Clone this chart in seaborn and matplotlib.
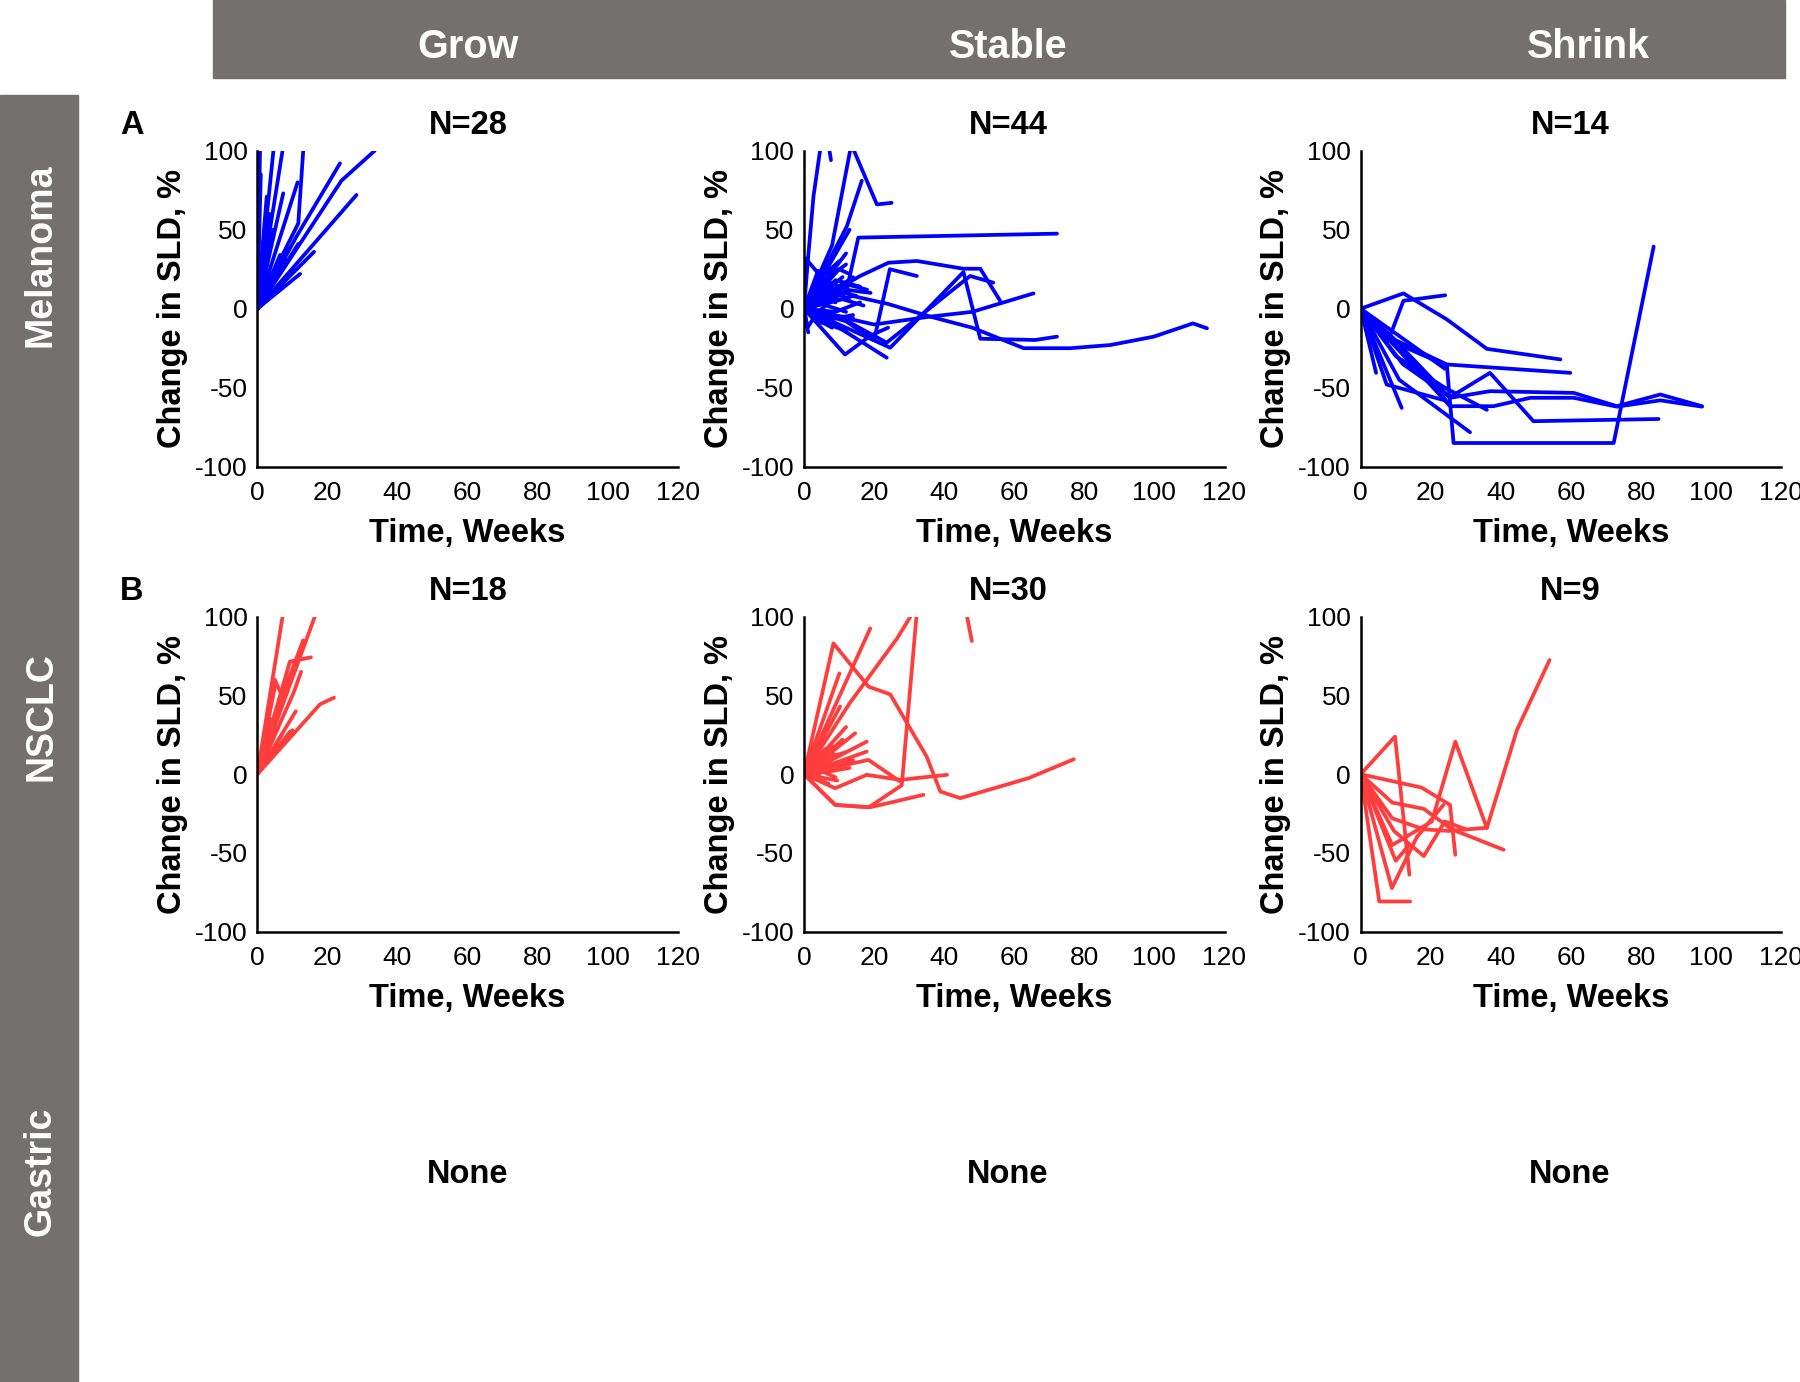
import numpy as np
import pandas as pd
import matplotlib.pyplot as plt
import seaborn as sns
from matplotlib.patches import Rectangle

# Column / row headers and panel titles
RESPONSE = ['Grow', 'Stable', 'Shrink']
TUMOUR = ['Melanoma', 'NSCLC', 'Gastric']
N_LABELS = [['N=28', 'N=44', 'N=14'], ['N=18', 'N=30', 'N=9']]
PANEL_LETTERS = ['A', 'B']
X_TICKS = [0, 20, 40, 60, 80, 100, 120]
Y_TICKS = [-100, -50, 0, 50, 100]

# Each patient trajectory: list of (time in weeks, % change in SLD)
mel_grow = [
    [(0, 0), (0.8, 104)],
    [(0, 0), (4.6, 100)],
    [(0, 0), (7.2, 100)],
    [(0, 0), (6.5, 31), (11.7, 54), (13.1, 100)],
    [(0, 0), (11.5, 80)],
    [(0, 0), (11, 45), (23.6, 92)],
    [(0, 0), (24, 81), (33.5, 100)],
    [(0, 0), (28.3, 72)],
    [(0, 0), (16.2, 36)],
    [(0, 0), (12.2, 22)],
    [(0, 0), (7.4, 73)],
    [(0, 0), (11.7, 41)],
    [(0, 0), (6.5, 34)],
    [(0, 0), (4.6, 50)],
    [(0, 0), (2.7, 71)],
    [(0, 0), (10.3, 25)],
    [(0, 0), (8.4, 31)],
    [(0, 0), (3.5, 60)],
    [(0, 0), (2, 10)],
    [(0, 0), (3, 20)],
    [(0, 0), (4, 15)],
    [(0, 0), (5, 25)],
    [(0, 0), (6, 12)],
    [(0, 0), (1.5, 30)],
    [(0, 0), (2.5, 45)],
    [(0, 0), (8, 18)],
    [(0, 0), (9, 38)],
    [(0, 0), (1, 85)],
]

mel_stable = [
    [(0, 0), (14, 8), (24, 3), (36, -5), (48, -12), (62.7, -25), (76, -25),
     (87.4, -23), (99.8, -17.7), (111, -9.3), (115, -12.4)],
    [(0, 0), (12, 10), (15.5, 45), (72.2, 47.5)],
    [(0, 0), (16, 20.7), (24.1, 29.1), (32.2, 30.2), (45.5, 25.3), (50.3, 25.3),
     (56, 4.9)],
    [(0, 0), (12, -8), (20, -20), (24.5, 25), (32.2, 20.7)],
    [(0, 0), (12, -12), (24.6, -24.7), (45.5, 23.2), (50.3, -19), (66, -19.8),
     (72.2, -17.7)],
    [(0, 0), (10, -5), (23.6, -21.5), (47.4, 20.7), (54, 16.5)],
    [(0, 0), (1.2, 33), (2.7, 71), (4.9, 105)],
    [(0, 0), (8, 40), (13.5, 104), (20.8, 66), (25, 67)],
    [(0, 0), (12.2, 52), (16.5, 81)],
    [(7.0, 104), (7.7, 94)],
    [(0, 0), (11.7, -29), (19, -17), (24, -12)],
    [(0, 0), (10, -12), (23.6, -31)],
    [(0, 0), (1.2, -15)],
    [(0, 0), (1, -12), (3, -5)],
    [(0, 0), (9.3, 28)],
    [(0, 0), (13, 15), (18, 12)],
    [(0, 0), (10, 25), (13, 22)],
    [(0, 0), (6, 18), (12, 12), (19, 10)],
    [(0, 0), (5, -8), (14, -4)],
    [(0, 0), (0.4, 32), (8, 12), (15, 8)],
    [(0, 0), (8, -4), (14, -6)],
    [(0, 0), (3, 12), (7, 20), (12, 28)],
    [(0, 0), (20, -10), (36, -5), (48, -2), (65.5, 9.7)],
    [(0, 0), (13, 50)],
    [(0, 0), (9, 18), (16, 14)],
    [(0, 0), (11, 6), (17, 2)],
    [(0, 0), (7, -10), (12, -14)],
    [(0, 0), (4, 8), (9, 4)],
    [(0, 0), (6, 22), (10, 30)],
    [(0, 0), (10, 14), (14, 20)],
    [(0, 0), (5, 3), (12, -2)],
    [(0, 0), (3, -6), (8, -12)],
    [(0, 0), (12, 35)],
    [(0, 0), (2, 6), (6, 2)],
    [(0, 0), (8, 8), (13, 11)],
    [(0, 0), (4, 24)],
    [(0, 0), (9, -2), (16, 4)],
    [(0, 0), (6, 5), (11, 16)],
    [(0, 0), (3, 3), (7, 9)],
    [(0, 0), (5, 12), (10, 10)],
    [(0, 0), (2, -3), (5, -9)],
    [(0, 0), (11, 20)],
    [(0, 0), (7, 15), (13, 5)],
    [(0, 0), (4, -2), (9, 7)],
]

mel_shrink = [
    [(0, 0), (8, -20), (24.6, -36), (26.5, -85), (72.2, -85), (83.6, 39.3)],
    [(0, 0), (12.2, 9.7), (24.6, -6.8), (36, -25.4), (57, -32.1)],
    [(0, 0), (8.4, -17), (12.2, 5), (24.1, 8.5)],
    [(0, 0), (10, -20), (24.6, -35.3), (59.8, -40.6)],
    [(0, 0), (12, -25), (25.5, -56.4), (36.9, -52.2), (60.8, -53.3), (73.1, -61.7),
     (85.5, -54.3), (97.4, -61.7)],
    [(0, 0), (25.5, -61.7), (37.9, -61.7), (48.4, -56.4), (60.8, -56.4), (73.1, -62),
     (85.5, -58), (97.4, -62)],
    [(0, 0), (12, -35), (25.5, -56), (36.9, -40.6), (49.3, -71.2), (85, -69.8)],
    [(0, 0), (11, -45), (31.2, -78.2)],
    [(0, 0), (4.4, -40.6)],
    [(0, 0), (11.7, -62.8)],
    [(0, 0), (7.4, -48), (24, -58)],
    [(0, 0), (10, -30), (24, -50), (36, -64)],
    [(0, 0), (14, -22), (24, -38)],
    [(0, 0), (6, -15), (20, -45), (25, -60)],
]

nsclc_grow = [
    [(0, 0), (7.2, 100)],
    [(0, 0), (16.4, 100)],
    [(0, 0), (9.3, 71.5), (15.3, 74.2)],
    [(0, 0), (8, 55), (13.1, 85)],
    [(0, 0), (10.3, 51.4), (12.5, 65)],
    [(0, 0), (17.9, 44.4), (21.9, 48.6)],
    [(0, 0), (9.3, 27)],
    [(0, 0), (6, 40)],
    [(0, 0), (5, 55)],
    [(0, 0), (4, 35)],
    [(0, 0), (7, 25)],
    [(0, 0), (3, 20)],
    [(0, 0), (10, 28)],
    [(0, 0), (5, 60), (7, 50)],
    [(0, 0), (11, 40)],
    [(0, 0), (6, 30)],
    [(0, 0), (2, 15)],
    [(0, 0), (9.5, 64)],
]

nsclc_stable = [
    [(0, 0), (18.9, 92.6)],
    [(0, 0), (13, 45), (26.5, 86), (31.2, 103)],
    [(0, 0), (8.9, -19.5), (18.5, -21), (27.9, -7), (32.2, 103)],
    [(0, 0), (8.4, 83.1), (18.4, 55.6), (24.6, 50.7), (35, 11.2), (38.9, -11),
     (44.6, -15.2), (64.1, -2.5), (77, 9.5)],
    [(0, 0), (10.1, 64)],
    [(46, 106), (47.9, 84.6)],
    [(0, 0), (8.9, -8.9), (17.9, -0.4), (27.4, -3.6), (40.8, -0.4)],
    [(0, 0), (8.9, -19.5), (18.9, -21), (34.1, -13.1)],
    [(0, 0), (18.4, 9.1), (27.4, -4.6)],
    [(0, 0), (17.9, 20.7)],
    [(0, 0), (17.9, 14.4)],
    [(0, 0), (14.6, 26)],
    [(0, 0), (10.3, 43)],
    [(0, 0), (9.5, -4)],
    [(0, 0), (6, 10), (12, 14)],
    [(0, 0), (8, 18)],
    [(0, 0), (5, 8), (10, 5)],
    [(0, 0), (7, -6)],
    [(0, 0), (4, 12)],
    [(0, 0), (9, 6), (14, 9)],
    [(0, 0), (3, -3), (6, 4)],
    [(0, 0), (11, 22)],
    [(0, 0), (6, 16), (9, 12)],
    [(0, 0), (5, 2), (9, -2)],
    [(0, 0), (7, 11)],
    [(0, 0), (10, 8)],
    [(0, 0), (4, 5), (8, 14)],
    [(0, 0), (12, 30)],
    [(0, 0), (3, 8)],
    [(0, 0), (8, 2), (13, 4)],
]

nsclc_shrink = [
    [(0, 0), (9, -45), (20.3, -30), (27, 20.7), (36, -34.2), (44.6, 28.1),
     (53.9, 72.5)],
    [(0, 0), (9.8, 23.9), (13.9, -63.8)],
    [(0, 0), (5.3, -80.8), (14.1, -80.8)],
    [(0, 0), (8.9, -72.3), (16, -40), (23.6, -19.5)],
    [(0, 0), (17.4, -8.5), (25.5, -19.5), (27, -51.2)],
    [(0, 0), (9, -18), (18, -22), (26, -35), (40.8, -48)],
    [(0, 0), (9.5, -36), (18, -52), (24, -30), (30, -35)],
    [(0, 0), (9, -28), (18, -35), (25, -36), (36, -34)],
    [(0, 0), (10, -55), (13.8, -45)],
]

PANELS = [[mel_grow, mel_stable, mel_shrink],
          [nsclc_grow, nsclc_stable, nsclc_shrink]]
ROW_COLORS = ['#0000ff', '#ff3d3d']
HEADER_GRAY = '#747070'

W, H = 1800, 1382


def fx(px):
    return px / W


def fy(py):
    return 1 - py / H


def to_frame(lines):
    rows = []
    for pid, line in enumerate(lines):
        for order, (t, v) in enumerate(line):
            rows.append({'patient': pid, 'order': order, 'week': t, 'change': v})
    return pd.DataFrame(rows)


sns.set_style('white')
plt.rcParams['font.family'] = ['Liberation Sans', 'DejaVu Sans']
plt.rcParams['axes.unicode_minus'] = False
plt.rcParams['text.color'] = 'black'
plt.rcParams['axes.labelcolor'] = 'black'

fig = plt.figure(figsize=(W / 100, H / 100), dpi=100)

# header bar and row bar
fig.patches.append(Rectangle((fx(213), fy(78)), fx(1785) - fx(213), 78 / H,
                             transform=fig.transFigure, color=HEADER_GRAY, zorder=0))
fig.patches.append(Rectangle((0, 0), fx(78), fy(95),
                             transform=fig.transFigure, color=HEADER_GRAY, zorder=0))

col_left = [257.3, 804.0, 1360.7]
col_center = [468, 1008, 1570]
header_x = [468, 1008, 1588]
row_top = [150.7, 616.7]
row_bottom = [466.7, 931.7]
axis_w = 420.5

for label, x in zip(RESPONSE, header_x):
    fig.text(fx(x), fy(46.5), label, color='white', fontsize=28.5, fontweight='bold',
             ha='center', va='center')

for label, y in zip(TUMOUR, [255, 717, 1171]):
    fig.text(fx(41), fy(y), label, color='white', fontsize=27, fontweight='bold',
             ha='center', va='center', rotation=90)

for r in range(2):
    fig.text(fx(132), fy(row_top[r] - 25.5), PANEL_LETTERS[r], fontsize=23.5,
             fontweight='bold', ha='center', va='center')
    for c in range(3):
        ax = fig.add_axes([fx(col_left[c]), fy(row_bottom[r]), axis_w / W,
                           (row_bottom[r] - row_top[r]) / H])
        df = to_frame(PANELS[r][c])
        sns.lineplot(data=df, x='week', y='change', units='patient', estimator=None,
                     sort=False, color=ROW_COLORS[r], linewidth=2.7, ax=ax,
                     legend=False)
        ax.set_xlim(0, 120)
        ax.set_ylim(-100, 100)
        ax.set_xticks(X_TICKS)
        ax.set_yticks(Y_TICKS)
        sns.despine(ax=ax)
        for s in ['left', 'bottom']:
            ax.spines[s].set_linewidth(1.8)
            ax.spines[s].set_color('black')
        ax.tick_params(direction='in', length=8, width=1.8, labelsize=19,
                       colors='black')
        ax.tick_params(axis='x', pad=10)
        ax.tick_params(axis='y', pad=7)
        ax.set_xlabel('Time, Weeks', fontsize=23.5, fontweight='bold', labelpad=10)
        ax.set_ylabel('Change in SLD, %', fontsize=23.5, fontweight='bold', labelpad=5)
        fig.text(fx(col_center[c]), fy(row_top[r] - 25.5), N_LABELS[r][c],
                 fontsize=23.5, fontweight='bold', ha='center', va='center')

for x in col_center:
    fig.text(fx(x), fy(1174.5), 'None', fontsize=23.5, fontweight='bold',
             ha='center', va='center')

fig.savefig('out.png', dpi=100)
